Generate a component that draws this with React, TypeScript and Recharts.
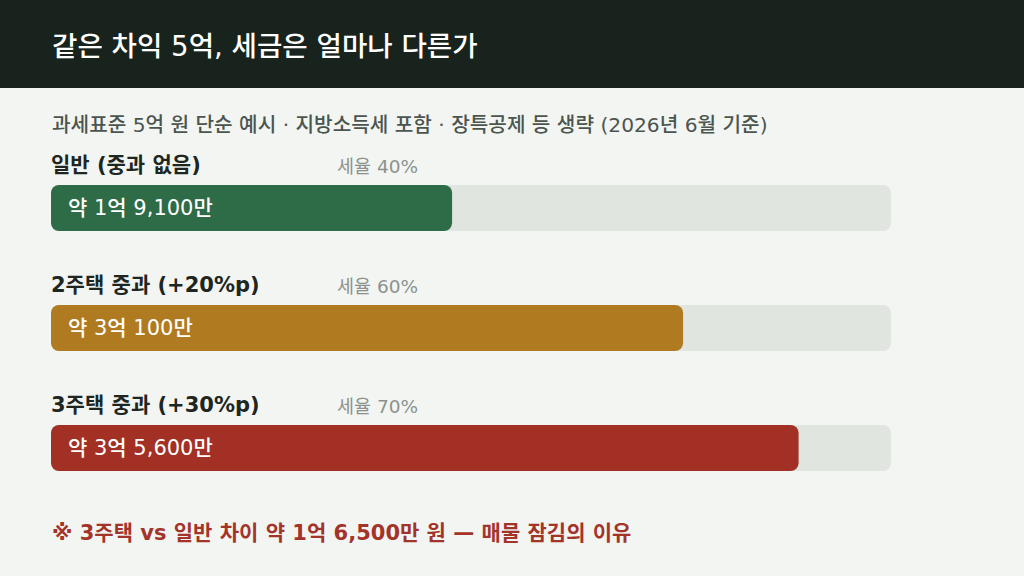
import { BarChart, Bar, XAxis, YAxis, Cell, LabelList } from "recharts";

// 세후 세액 (단위: 만원)
const categories = ["일반 (중과 없음)", "2주택 중과 (+20%p)", "3주택 중과 (+30%p)"];
const taxAmounts = [19100, 30100, 35600];
const taxRates = ["세율 40%", "세율 60%", "세율 70%"];
const amountLabels = ["약 1억 9,100만", "약 3억 100만", "약 3억 5,600만"];
const colors = ["#2e6b47", "#b07b20", "#a23024"];
const maxAmount = 40000;

const data = categories.map((name, i) => ({
  name,
  value: taxAmounts[i],
  rate: taxRates[i],
  label: amountLabels[i],
}));

const FONT = "'DejaVu Sans', 'Noto Sans CJK KR', sans-serif";

function BarLabels(props: any) {
  const { x, y, height, index } = props;
  const d = data[index];
  return (
    <g>
      <text
        x={51}
        y={y - 20}
        fill="#1d2621"
        fontSize={21}
        fontWeight={600}
        fontFamily={FONT}
        dominantBaseline="central"
      >
        {d.name}
      </text>
      <text
        x={337}
        y={y - 19}
        fill="#8b928d"
        fontSize={18.5}
        fontFamily={FONT}
        dominantBaseline="central"
      >
        {d.rate}
      </text>
      <text
        x={x + 17}
        y={y + height / 2}
        fill="#ffffff"
        fontSize={21}
        fontWeight={500}
        fontFamily={FONT}
        dominantBaseline="central"
      >
        {d.label}
      </text>
    </g>
  );
}

export default function App() {
  return (
    <div
      style={{
        position: "fixed",
        left: 0,
        top: 0,
        width: 1024,
        height: 576,
        background: "#f3f5f2",
        fontFamily: FONT,
        overflow: "hidden",
      }}
    >
      {/* header */}
      <div
        style={{
          height: 88,
          background: "#19231d",
          color: "#fff",
          fontSize: 27.6,
          fontWeight: 500,
          lineHeight: "88px",
          paddingLeft: 52,
          paddingTop: 3,
          boxSizing: "border-box",
        }}
      >
        같은 차익 5억, 세금은 얼마나 다른가
      </div>

      <div
        style={{
          position: "absolute",
          left: 52,
          top: 111,
          fontSize: 20.2,
          fontWeight: 500,
          color: "#4b5550",
          lineHeight: "28px",
          whiteSpace: "nowrap",
        }}
      >
        과세표준 5억 원 단순 예시 · 지방소득세 포함 · 장특공제 등 생략 (2026년 6월 기준)
      </div>

      <div style={{ position: "absolute", left: 0, top: 148 }}>
        <BarChart
          width={1024}
          height={360}
          data={data}
          layout="vertical"
          margin={{ top: 0, right: 133, bottom: 0, left: 51 }}
        >
          <XAxis type="number" domain={[0, maxAmount]} hide />
          <YAxis type="category" dataKey="name" hide />
          <Bar
            dataKey="value"
            barSize={46}
            radius={8}
            isAnimationActive={false}
            background={{ fill: "#e1e5df", radius: 8 }}
          >
            {data.map((d, i) => (
              <Cell key={d.name} fill={colors[i]} />
            ))}
            <LabelList dataKey="label" content={<BarLabels />} />
          </Bar>
        </BarChart>
      </div>

      <div
        style={{
          position: "absolute",
          left: 52,
          top: 519,
          fontSize: 21,
          fontWeight: 600,
          color: "#a3342a",
          lineHeight: "28px",
          whiteSpace: "nowrap",
        }}
      >
        ※ 3주택 vs 일반 차이 약 1억 6,500만 원 — 매물 잠김의 이유
      </div>
    </div>
  );
}
